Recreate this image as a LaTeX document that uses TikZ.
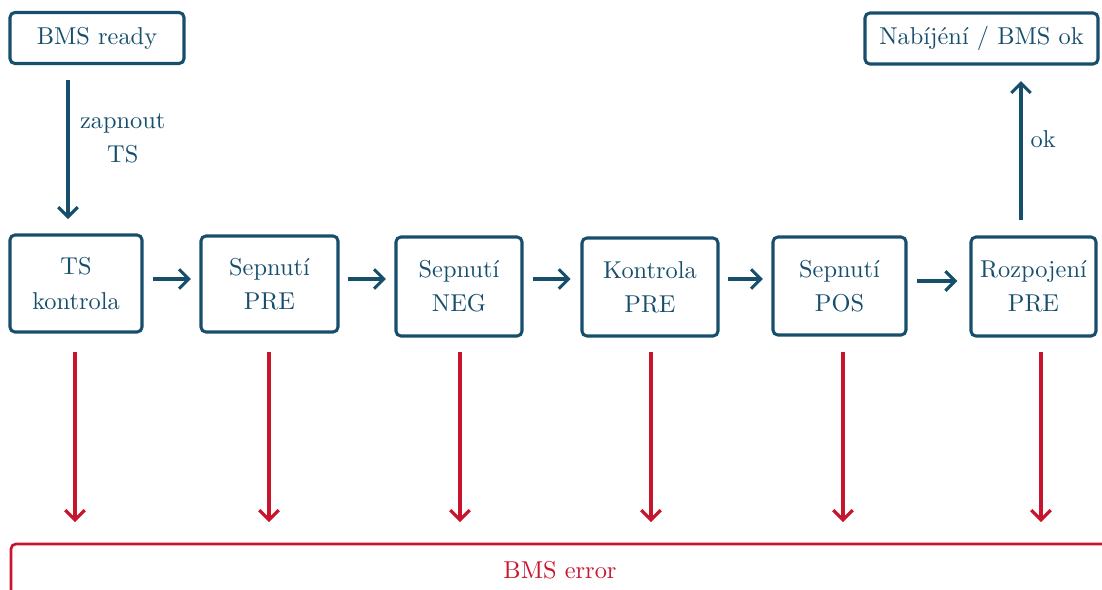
\documentclass[tikz,border=0pt]{standalone}
\usetikzlibrary{arrows.meta}
\definecolor{bmsblue}{RGB}{22,78,108}
\definecolor{bmsred}{RGB}{200,20,45}
\begin{document}
\begin{tikzpicture}[x=0.41pt,y=-0.41pt,
  box/.style={draw=bmsblue,line width=1.25pt,rounded corners=2pt,text=bmsblue,align=center,inner sep=0pt},
  flow/.style={draw=bmsblue,line width=1.25pt,-{Straight Barb[length=4pt,width=8pt,line width=1.25pt]}},
  errflow/.style={draw=bmsred,line width=1.25pt,-{Straight Barb[length=4pt,width=8pt,line width=1.25pt]}},
  lbl/.style={text=bmsblue,align=center}]
\useasboundingbox (0,0) rectangle (1102,590);
\clip (0,0) rectangle (1102,590);
\node[box,minimum width=174*0.41pt,minimum height=51*0.41pt] (ready) at (97,38) {BMS ready};
\node[box,minimum width=233*0.41pt,minimum height=51*0.41pt] (ok) at (981.5,38.5) {Nab\'ij\'en\'i / BMS ok};
\node[box,minimum width=132*0.41pt,minimum height=97*0.41pt] (ts) at (76,283.5) {TS\\[2pt]kontrola};
\node[box,minimum width=137*0.41pt,minimum height=96*0.41pt] (pre) at (269.5,284) {Sepnut\'i\\[2pt]PRE};
\node[box,minimum width=126*0.41pt,minimum height=99*0.41pt] (neg) at (459,286.5) {Sepnut\'i\\[2pt]NEG};
\node[box,minimum width=136*0.41pt,minimum height=98*0.41pt] (kon) at (650,287) {Kontrola\\[2pt]PRE};
\node[box,minimum width=133*0.41pt,minimum height=98*0.41pt] (pos) at (839.5,286) {Sepnut\'i\\[2pt]POS};
\node[box,minimum width=125*0.41pt,minimum height=99*0.41pt] (roz) at (1033.5,286.5) {Rozpojen\'i\\[2pt]PRE};
% top arrows
\coordinate (a1) at (68,80);
\coordinate (a2) at (68,219);
\draw[flow] (a1) -- node[lbl,right=1pt,pos=0.42] {zapnout\\[2pt]TS} (a2);
\coordinate (b1) at (1021,220);
\coordinate (b2) at (1021,81);
\draw[flow] (b1) -- node[lbl,right=0pt,pos=0.58] {ok} (b2);
% horizontal arrows
\draw[flow] ([xshift=4pt]ts.east|-0,279) -- ([xshift=-3.5pt]pre.west|-0,279);
\draw[flow] ([xshift=3.5pt]pre.east|-0,279) -- ([xshift=-3.5pt]neg.west|-0,279);
\draw[flow] ([xshift=4pt]neg.east|-0,279) -- ([xshift=-4pt]kon.west|-0,279);
\draw[flow] ([xshift=3.5pt]kon.east|-0,279) -- ([xshift=-3.5pt]pos.west|-0,279);
\draw[flow] ([xshift=4pt]pos.east|-0,281) -- ([xshift=-5pt]roz.west|-0,281);
% error rectangle
\node[text=bmsred] (err) at (560,570) {BMS error};
\draw[bmsred,line width=1.1pt,rounded corners=2pt] (11,620) -- (11,544) -- (1130,544) -- (1130,620);
\draw[errflow] (75,352) -- (75,522);
\draw[errflow] (269,352) -- (269,522);
\draw[errflow] (460,352) -- (460,522);
\draw[errflow] (651,352) -- (651,522);
\draw[errflow] (843,352) -- (843,522);
\draw[errflow] (1041,352) -- (1041,522);
\end{tikzpicture}
\end{document}
